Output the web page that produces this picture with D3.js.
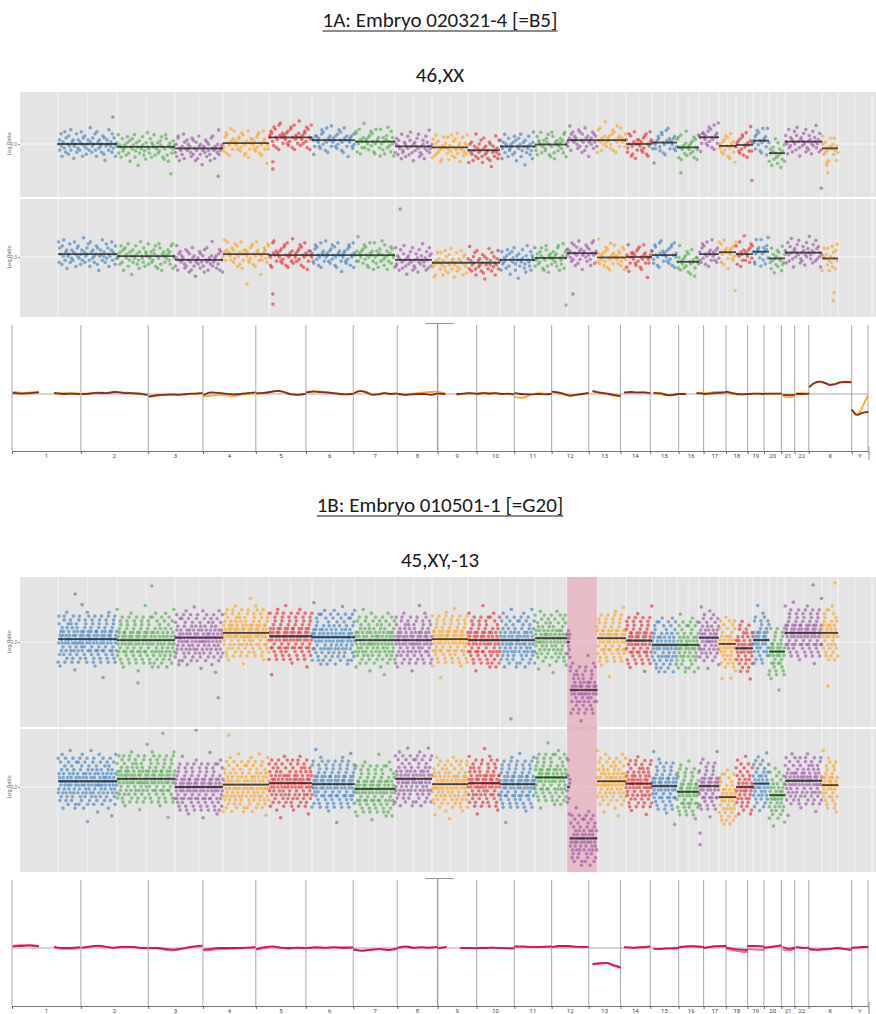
<!DOCTYPE html>
<html><head><meta charset="utf-8">
<script src="https://cdn.jsdelivr.net/npm/d3@7"></script>
<style>body{margin:0;background:#fff} svg{display:block}</style>
</head><body><svg id="c" width="876" height="1014"></svg>
<script>
// ---------------- DATA ----------------
const chromosomes = ['1','2','3','4','5','6','7','8','9','10','11','12','13','14','15','16','17','18','19','20','21','22','X','Y'];
// chromosome lengths (Mb, hg19) used by the smoothed ratio plots
const chrLengthMb = [249,243,198,191,181,171,159,146,141,136,135,134,115,107,103,90,81,78,59,63,48,51,155,59];
// number of probe bins per chromosome (index axis of the scatter plots)
const binCounts = [590,580,480,460,430,430,400,370,360,320,350,320,300,290,260,250,220,200,170,170,160,160,370,160];
const chrColors = ['#3a7fc0','#4caa48','#9a4fa5','#ffa01e','#e2282c'];

// segment means (log ratio); nested arrays = [endFraction, mean] pieces
const segA_top = [0,-0.06,-0.09,0.02,0.14,0.08,0.05,-0.05,-0.07,-0.13,-0.05,-0.01,0.08,0.08,0.0,0.03,-0.07,0.14,-0.04,-0.02,0.07,-0.19,0.05,-0.09];
const segA_bot = [0.06,0.02,-0.06,0.06,0.04,0.04,0.04,-0.06,-0.12,-0.12,-0.06,-0.02,0.08,-0.01,0.0,0.04,-0.1,0.06,0.1,0.06,0.11,-0.03,0.09,-0.03];
const segB_top = [0.06,0.04,0.09,0.19,0.12,0.1,0.04,0.04,0.06,0.04,0.04,0.08,[[0.1,0.0],[1,-1.0]],0.08,0.03,-0.06,-0.06,0.09,-0.04,-0.13,0.04,-0.2,0.19,0.19];
const segB_bot = [0.12,0.17,0.0,0.05,0.08,0.06,-0.04,0.17,0.06,0.08,0.06,0.2,[[0.1,0.0],[1,-1.07]],0.12,0.07,0.02,-0.1,0.02,-0.21,0.0,0.07,-0.17,0.13,0.04];

// hand-read probe scatter (deviation codes: 'k' = on segment, steps of 0.25 SD)
const probeDeviation =
 "kmhpjeliqgnkfojrhlmdjkpgimhlqkenjoifkmhslgjnkpheqlimjgkofncjmkhrjlgpinkejmqhlkfo"+
 "ijlkgmphndkojlqfimkbnhkjplgiemrkjhofmlkqgjkmhinlpfkejqogdlkmhkjnlimgpqekjhlrfnko"+
 "jmkligphokenjfqlhmcjkliognjmhepkqjflkimthjlkmginpfokejrlhmqkljkhnmgipkoejflqdkhm"+
 "kmjlhgniopfkejqlmhkajhklnmigpokfjeqlrkmhlkjmhngiopfkqejlkhmsgkjlhmnipfokejqlkdhm"+
 "mkjlhgnpiokfjqelkmhrjlkhmgnipkofjeqlkmhckjlmhgnipofkjqelkhmthlkjmgnpiokfejqlkmhd"+
 "qjgmkelnhrkifpjmdkhlognkjeqhimlfkpjgnrkhdlmikojqfhkgnlejpimkshjlfokgqmhnikdjelpk";
const probeJitter = "38175029461682390574138260957143628052";

// visible outliers [chromosome, fraction along chromosome, log ratio]
const outA_top = [['1',0.93,0.56],['2',0.93,-0.62],['3',0.9,-0.67],['5',0.09,-0.37],['5',0.09,-0.52],['20',0.94,-0.76],['17',0.18,-0.6],['X',0.98,-0.92],['Y',0.37,-0.6],['Y',0.3,-0.44]];
const outA_bot = [['5',0.09,-0.77],['5',0.09,-0.98],['8',0.14,1.0],['4',0.52,-0.56],['13',0.2,-0.77],['12',0.97,-1.0],['Y',0.7,-0.91],['Y',0.75,-0.74],['19',0.94,-0.7]];
const outB_top = [['3',0.9,-1.16],['2',0.36,-0.85],['2',0.6,1.17],['1',0.29,1.0],['11',0.31,-1.6],['Y',0.81,1.23],['Y',0.38,-0.92],['X',0.76,1.19],['19',0.7,-0.75]];
const outB_bot = [['2',0.79,1.12],['3',0.44,1.19],['18',0.05,-1.2],['18',0.05,-0.96],['1',0.5,-0.72],['4',0.13,1.08]];

// smoothed ratio lines per chromosome (null = gap)
const lineA_dark = [
 [0.03,0.01,0.02,0.04,null,0.02,0.0,0.01,0.0],[0.0,0.01,0.03,0.02,0.05,0.03,0.02,0.01,-0.02],
 [-0.06,-0.03,-0.02,-0.01,-0.02,0.0,0.01,0.02],[-0.02,0.04,0.03,0.01,-0.01,0.0,0.02,0.04],
 [0.02,0.03,0.05,0.08,0.05,-0.01,-0.02,0.0],[0.04,0.06,0.05,0.04,0.02,0.0,-0.01,0.0],
 [0.02,0.07,0.04,-0.02,-0.01,0.02,0.0,0.01],[0.0,-0.02,-0.01,0.0,0.0,-0.02,0.01],
 [0.01,0.0,null,0.0,0.01,0.02,0.01],[0.0,0.02,0.01,0.02,0.0,0.01,-0.01],
 [0.02,0.0,-0.01,-0.01,0.0,-0.01,0.0],[0.06,0.04,0.0,-0.04,-0.02,0.0,0.02],
 [0.07,0.04,0.02,0.0,-0.03,-0.05],[0.04,0.05,0.04,0.04,0.03],
 [0.03,0.02,0.0,-0.03,-0.02,0.0],[0.0,0.0,null,0.02,0.01],
 [0.0,0.01,0.02,0.03,0.04],[0.06,0.03,0.0,-0.01,0.0],[0.0,0.01,0.01,0.0],[0.01,0.01,0.01,0.01],
 [-0.02,-0.03,-0.02],[0.0,0.0,0.01],
 [0.18,0.28,0.31,0.27,0.22,0.25,0.29,0.3,0.29],[-0.4,-0.52,-0.47,-0.45]];
const lineA_light = [
 [0.05,0.03,0.04,0.06,null,0.03,0.02,0.02,0.01],[0.01,0.02,0.04,0.03,0.06,0.04,0.03,0.02,-0.01],
 [-0.08,-0.05,-0.03,-0.02,-0.01,0.0,0.0,0.03],[-0.06,-0.04,-0.02,-0.03,-0.05,-0.02,0.0,0.02],
 [0.0,0.02,0.05,0.07,0.04,0.0,-0.02,0.01],[0.05,0.07,0.06,0.05,0.03,0.01,0.0,0.01],
 [0.03,0.08,0.06,0.0,0.0,0.03,0.01,0.02],[0.01,-0.01,0.0,0.02,0.04,0.05,0.06],
 [0.05,0.02,null,-0.02,0.0,0.02,0.01],[0.02,0.03,0.03,0.02,0.01,0.0,-0.01],
 [-0.08,-0.1,-0.06,0.0,0.02,0.01,0.0],[0.04,0.02,-0.02,-0.05,-0.03,0.0,0.03],
 [0.05,0.03,0.01,-0.02,-0.04,-0.05],[0.02,0.03,0.03,0.04,0.03],
 [0.02,0.0,-0.02,-0.04,-0.03,0.0],[0.0,0.01,null,0.02,0.03],
 [0.02,0.03,0.05,0.06,0.05],[0.03,0.01,-0.01,0.0,0.0],[0.0,0.0,0.01,0.0],[0.0,0.0,0.01,0.01],
 [-0.06,-0.08,-0.07],[0.02,0.02,0.0],
 [0.2,0.27,0.31,0.28,0.24,0.26,0.3,0.31,0.31],[-0.4,-0.52,-0.45,-0.25,-0.05]];
const lineB_dark = [
 [0.04,0.05,0.06,0.04,null,0.03,0.0,0.0,0.02],[0.01,0.04,0.06,0.03,0.01,0.03,0.03,0.01,0.0],
 [0.0,0.0,-0.02,-0.04,-0.02,0.01,0.04,0.06],[-0.04,-0.02,0.0,0.0,0.0,0.0,0.01,0.02],
 [-0.02,0.02,0.04,0.01,0.0,0.01,0.0],[0.0,0.02,0.01,0.02,0.0,0.01],
 [-0.04,-0.07,-0.04,-0.03,-0.05,-0.02],[0.01,0.04,0.01,0.02,0.01,0.02],
 [-0.01,0.02,null,0.0,0.0,-0.01],[0.0,0.0,0.01,0.0,-0.01,-0.01],
 [0.04,0.04,0.02,0.03,0.04],[0.03,0.05,0.05,0.04,0.03,0.03],
 [-0.4,-0.38,-0.37,-0.43,-0.48],[0.02,0.01,0.02,0.04],
 [-0.02,-0.02,-0.01,-0.01,0.0],[0.02,0.04,0.03],
 [0.0,0.02,0.04,0.04,0.05],[0.01,-0.02,-0.04,-0.05],[0.05,0.05,0.04],[0.0,0.03,0.06],
 [0.02,-0.02,0.0],[0.02,0.0,0.01],
 [-0.03,-0.04,-0.03,-0.02,0.0,-0.02,-0.04],[0.01,0.02,0.03]];
const lineB_light = [
 [0.06,0.07,0.08,0.05,null,0.01,-0.02,-0.02,0.0],[0.0,0.03,0.05,0.02,0.0,0.02,0.02,0.0,-0.01],
 [0.0,-0.01,-0.04,-0.06,-0.04,0.0,0.03,0.05],[-0.06,-0.05,-0.03,-0.03,-0.02,-0.01,0.0,0.01],
 [-0.04,0.0,0.02,0.0,-0.02,0.0,0.0],[0.0,0.0,0.0,0.01,0.02,0.02],
 [-0.03,-0.06,-0.05,-0.02,-0.04,-0.01],[0.0,0.02,0.0,0.01,0.0,0.02],
 [0.0,0.03,null,-0.01,0.0,0.0],[0.0,0.01,0.01,0.0,0.0,-0.01],
 [0.03,0.03,0.02,0.02,0.03],[0.02,0.04,0.04,0.03,0.03,0.03],
 [-0.41,-0.4,-0.38,-0.44,-0.5],[0.01,0.0,0.01,0.03],
 [-0.03,-0.03,-0.02,-0.01,-0.01],[0.03,0.05,0.02],
 [0.01,0.03,0.05,0.05,0.06],[-0.02,-0.06,-0.09,-0.1],[-0.02,-0.04,-0.05],[0.01,0.04,0.07],
 [-0.04,-0.06,-0.02],[0.02,0.01,0.0],
 [-0.04,-0.05,-0.04,-0.03,-0.01,-0.03,-0.05],[0.0,0.01,0.02]];
const acrocentric = ['13','14','15','21','22'];

// ---------------- DRAWING ----------------
const svg = d3.select('#c');
const W = 876;
const binStart = d3.cumsum([0, ...binCounts]);
const genStart = d3.cumsum([0, ...chrLengthMb]);
const totalBins = binStart[binStart.length-1];
const totalMb = genStart[genStart.length-1];
const xScatter = d3.scaleLinear().domain([0, totalBins]).range([58, 838]);
const xLine = d3.scaleLinear().domain([0, totalMb]).range([12, 868]);
const titleFont = "Carlito, Lato, 'Open Sans', sans-serif";

function title(text, cy, underline) {
  const t = svg.append('text').attr('x', 440).attr('y', cy).attr('text-anchor','middle')
    .attr('font-family', titleFont).attr('font-size', 21).attr('fill','#1a1a1a').text(text);
  if (underline) {
    const bb = t.node().getBBox();
    svg.append('line').attr('x1', bb.x).attr('x2', bb.x + bb.width)
      .attr('y1', cy + 4).attr('y2', cy + 4).attr('stroke','#1a1a1a').attr('stroke-width',1.2);
  }
}

function segValue(seg, frac) {
  if (typeof seg === 'number') return seg;
  for (const [end, m] of seg) if (frac <= end) return m;
  return seg[seg.length-1][1];
}

let noiseIdx = 0;
function drawFacet(top, bottom, zeroY, highlightChr) {
  const y = d3.scaleLinear().domain([0, 1]).range([zeroY, zeroY - 48]);
  const g = svg.append('g');
  g.append('rect').attr('x', 20).attr('y', top).attr('width', W - 20).attr('height', bottom - top).attr('fill', '#e4e4e4');
  const clipId = 'clip' + Math.round(top);
  g.append('clipPath').attr('id', clipId).append('rect').attr('x',20).attr('y',top).attr('width',W-20).attr('height',bottom-top);
  const inner = g.append('g').attr('clip-path', `url(#${clipId})`);
  // vertical grid: chromosome starts (major) and midpoints (minor)
  const grid = [];
  chromosomes.forEach((c, i) => { grid.push([binStart[i], 1]); grid.push([binStart[i] + binCounts[i]/2, 0.6]); });
  grid.push([totalBins, 1]); grid.push([totalBins + 170, 0.6]); grid.push([totalBins + 340, 1]);
  inner.selectAll('line.vg').data(grid).join('line').attr('class','vg')
    .attr('x1', d => xScatter(d[0])).attr('x2', d => xScatter(d[0]))
    .attr('y1', top).attr('y2', bottom).attr('stroke', '#f6f6f6').attr('stroke-width', d => d[1]);
  inner.append('line').attr('x1', 20).attr('x2', W).attr('y1', y(0)).attr('y2', y(0)).attr('stroke','#f8f8f8').attr('stroke-width',1);
  if (highlightChr) {
    const i = chromosomes.indexOf(highlightChr);
    inner.append('rect').attr('x', xScatter(binStart[i])).attr('y', top - 2)
      .attr('width', xScatter(binStart[i] + binCounts[i]) - xScatter(binStart[i])).attr('height', bottom - top + 4)
      .attr('fill', '#e8a3b2').attr('fill-opacity', 0.6);
  }
  // y axis
  const ax = g.append('g').attr('transform', 'translate(20,0)')
    .call(d3.axisLeft(y).tickValues([0]).tickSize(2).tickPadding(1));
  ax.select('.domain').remove();
  ax.selectAll('text').attr('font-size', 4.5).attr('fill', '#777').attr('font-family','Roboto, sans-serif');
  ax.selectAll('line').attr('stroke', '#999');
  g.append('text').attr('transform', `translate(11,${zeroY}) rotate(-90)`).attr('text-anchor','middle')
    .attr('font-size', 5.5).attr('fill','#666').attr('font-family','Roboto, sans-serif').text('Log Ratio');
  return {g: inner, y};
}

function fillFacet(f, segs, sd, step, outliers) {
  const pts = [];
  chromosomes.forEach((c, i) => {
    const n = Math.floor(binCounts[i] / step);
    for (let k = 0; k < n; k++) {
      const j = (probeJitter.charCodeAt(noiseIdx % probeJitter.length) - 48) / 10;
      const dev = (probeDeviation.charCodeAt(noiseIdx % probeDeviation.length) - 107) / 4;
      noiseIdx++;
      const frac = (k + j) / n;
      pts.push({c: i, b: binStart[i] + binCounts[i] * frac, v: segValue(segs[i], frac) + dev * sd});
    }
  });
  outliers.forEach(([c, frac, v]) => {
    const i = chromosomes.indexOf(c);
    pts.push({c: i, b: binStart[i] + binCounts[i] * frac, v});
  });
  f.g.selectAll('circle.p').data(pts).join('circle').attr('class','p')
    .attr('cx', d => xScatter(d.b)).attr('cy', d => f.y(d.v)).attr('r', 1.6)
    .attr('fill', d => chrColors[d.c % 5]).attr('fill-opacity', 0.6)
    .attr('stroke', d => chrColors[d.c % 5]).attr('stroke-opacity', 0.35).attr('stroke-width', 0.5);
  // segment lines
  const segData = [];
  chromosomes.forEach((c, i) => {
    const s = segs[i];
    const pieces = typeof s === 'number' ? [[1, s]] : s;
    let from = 0;
    pieces.forEach(([end, m]) => { segData.push({x0: binStart[i] + binCounts[i]*from, x1: binStart[i] + binCounts[i]*end, m}); from = end; });
  });
  f.g.selectAll('line.seg').data(segData).join('line').attr('class','seg')
    .attr('x1', d => xScatter(d.x0)).attr('x2', d => xScatter(d.x1))
    .attr('y1', d => f.y(d.m)).attr('y2', d => f.y(d.m))
    .attr('stroke', '#2e2e2e').attr('stroke-opacity', 0.85).attr('stroke-width', 1.8);
}

function drawLinePanel(top, axisY, zeroY, series, colors) {
  const g = svg.append('g');
  const y = d3.scaleLinear().domain([-1.5, 1.5]).range([zeroY + 60, zeroY - 60]);
  g.selectAll('line.b').data(genStart).join('line').attr('class','b')
    .attr('x1', d => xLine(d)).attr('x2', d => xLine(d)).attr('y1', top).attr('y2', axisY)
    .attr('stroke', '#a8a8a8').attr('stroke-width', 1);
  // cursor bracket at chr8/9 boundary
  const cx = xLine(genStart[8]);
  g.append('line').attr('x1', cx).attr('x2', cx).attr('y1', top - 1.5).attr('y2', axisY).attr('stroke','#999').attr('stroke-width',1.1);
  g.append('line').attr('x1', cx - 12).attr('x2', cx + 16).attr('y1', top - 1.5).attr('y2', top - 1.5).attr('stroke','#999').attr('stroke-width',1.1);
  g.append('line').attr('x1', 12).attr('x2', 868).attr('y1', y(0)).attr('y2', y(0)).attr('stroke','#a0a0a0').attr('stroke-width', 0.9);
  const ax = g.append('g').attr('transform', `translate(0,${axisY})`)
    .call(d3.axisBottom(xLine).tickValues(genStart).tickSize(3).tickFormat(''));
  ax.select('.domain').attr('stroke', '#777');
  ax.selectAll('line').attr('stroke', '#666');
  g.selectAll('text.cl').data(chromosomes).join('text').attr('class','cl')
    .attr('x', (d, i) => xLine(genStart[i] + chrLengthMb[i]/2)).attr('y', axisY + 7)
    .attr('text-anchor','middle').attr('font-size', 6).attr('fill','#444').attr('font-family','Roboto, sans-serif').text(d => d);
  g.append('line').attr('x1', 869).attr('x2', 869).attr('y1', axisY - 4).attr('y2', axisY + 9).attr('stroke','#aab0d8').attr('stroke-width',1.5);
  const line = d3.line().defined(d => d.v !== null).x(d => xLine(d.p)).y(d => y(d.v)).curve(d3.curveMonotoneX);
  series.forEach((ser, si) => {
    ser.forEach((vals, i) => {
      const s0 = acrocentric.includes(chromosomes[i]) ? 0.14 : 0.02;
      const s1 = 0.98;
      const pts = vals.map((v, k) => ({v, p: genStart[i] + chrLengthMb[i] * (s0 + (s1 - s0) * k / (vals.length - 1))}));
      g.append('path').datum(pts).attr('d', line).attr('fill','none')
        .attr('stroke', colors[si]).attr('stroke-width', 1.8).attr('stroke-linecap','round').attr('stroke-opacity', 0.95);
    });
  });
}

// ---- 1A ----
title('1A: Embryo 020321-4 [=B5]', 27, true);
title('46,XX', 82, false);
let f = drawFacet(92, 197, 144);
fillFacet(f, segA_top, 0.17, 8, outA_top);
f = drawFacet(199, 317, 257);
fillFacet(f, segA_bot, 0.17, 8, outA_bot);
drawLinePanel(325, 451, 394, [lineA_light, lineA_dark], ['#ffa41c', '#7a2420']);

// ---- 1B ----
title('1B: Embryo 010501-1 [=G20]', 512, true);
title('45,XY,-13', 567, false);
const f1 = drawFacet(577, 727, 642, '13');
const f2 = drawFacet(729, 872, 787, '13');
const i13 = chromosomes.indexOf('13');
svg.append('rect').attr('x', xScatter(binStart[i13])).attr('y', 727)
  .attr('width', xScatter(binStart[i13] + binCounts[i13]) - xScatter(binStart[i13])).attr('height', 2)
  .attr('fill', '#eab2bf');
noiseIdx = 131;
fillFacet(f1, segB_top, 0.32, 3.5, outB_top);
fillFacet(f2, segB_bot, 0.32, 3.5, outB_bot);
drawLinePanel(880, 1006, 948, [lineB_light, lineB_dark], ['#ff5a92', '#c8124e']);
</script></body></html>
